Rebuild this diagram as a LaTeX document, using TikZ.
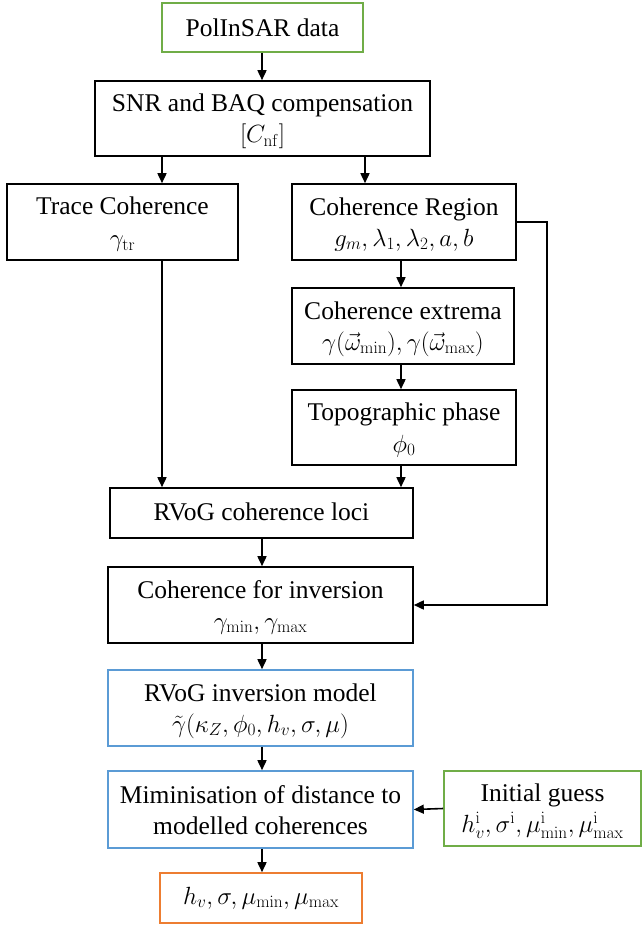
\documentclass[tikz,border=0pt]{standalone}
\usepackage[no-math]{fontspec}
\setmainfont{Liberation Serif}
\usetikzlibrary{arrows.meta}
\definecolor{cgreen}{RGB}{112,173,71}
\definecolor{cblue}{RGB}{91,155,213}
\definecolor{corange}{RGB}{237,125,49}
\newcommand{\lowtxt}[2][2.5pt]{\raisebox{-#1}[\height][\depth]{\begin{tabular}{@{}c@{}}#2\end{tabular}}}
\begin{document}
\begin{tikzpicture}[x=1pt,y=-1pt,
  box/.style={draw=black,line width=1.6pt,rectangle,align=center,inner sep=0pt,
    font=\fontsize{25.5}{31}\selectfont},
  gbox/.style={box,draw=cgreen},
  bbox/.style={box,draw=cblue},
  obox/.style={box,draw=corange},
  arr/.style={line width=1.6pt,-{Triangle[length=10pt,width=9pt]}}]
\useasboundingbox (0,0) rectangle (643,929);
\node[gbox,minimum width=201pt,minimum height=49pt] (pol) at (262.5,27.5) {PolInSAR data};
\node[box,minimum width=335pt,minimum height=75pt] (snr) at (262.5,118.5) {\lowtxt{SNR and BAQ compensation\\ $[C_{\mathrm{nf}}]$}};
\node[box,minimum width=231pt,minimum height=76pt] (trace) at (122.5,222) {\lowtxt{Trace Coherence\\[1pt] $\gamma_{\mathrm{tr}}$}};
\node[box,minimum width=224pt,minimum height=76pt] (region) at (404,222) {\lowtxt{Coherence Region\\ $g_m,\lambda_1,\lambda_2,a,b$}};
\node[box,minimum width=222pt,minimum height=76pt] (extrema) at (403,326) {\lowtxt{Coherence extrema\\ $\gamma(\vec{\omega}_{\min}),\gamma(\vec{\omega}_{\max})$}};
\node[box,minimum width=224pt,minimum height=75pt] (topo) at (404,427.5) {\lowtxt{Topographic phase\\[1pt] $\phi_0$}};
\node[box,minimum width=303pt,minimum height=50pt] (loci) at (261.5,513) {\lowtxt[1pt]{RVoG coherence loci}};
\node[box,minimum width=305pt,minimum height=76pt] (cinv) at (260.5,605) {\lowtxt{Coherence for inversion\\ $\gamma_{\min},\gamma_{\max}$}};
\node[bbox,minimum width=305pt,minimum height=76pt] (model) at (260.5,708) {\lowtxt{RVoG inversion model\\ $\tilde{\gamma}(\kappa_Z,\phi_0,h_v,\sigma,\mu)$}};
\node[bbox,minimum width=305pt,minimum height=77pt] (mini) at (260.5,809.5) {\lowtxt[3pt]{Miminisation of distance to\\ modelled coherences}};
\node[gbox,minimum width=197pt,minimum height=75pt] (guess) at (542.5,808.5) {\lowtxt{Initial guess\\ $h_v^{\mathrm{i}},\sigma^{\mathrm{i}},\mu_{\min}^{\mathrm{i}},\mu_{\max}^{\mathrm{i}}$}};
\node[obox,minimum width=202pt,minimum height=50pt] (out) at (261,898) {$h_v,\sigma,\mu_{\min},\mu_{\max}$};
\coordinate (fb) at (547,222);
\draw[arr] (pol.south -| 262,0) -- (snr.north -| 262,0);
\draw[arr] (snr.south -| 162,0) -- (trace.north -| 162,0);
\draw[arr] (snr.south -| 365,0) -- (region.north -| 365,0);
\draw[arr] (region.south -| 401,0) -- (extrema.north -| 401,0);
\draw[arr] (extrema.south -| 401,0) -- (topo.north -| 401,0);
\draw[arr] (trace.south -| 162,0) -- (loci.north -| 162,0);
\draw[arr] (topo.south -| 401,0) -- (loci.north -| 401,0);
\draw[arr] (loci.south -| 262,0) -- (cinv.north -| 262,0);
\draw[arr] (region.east) -- (fb) |- (cinv.east);
\draw[arr] (cinv.south -| 262,0) -- (model.north -| 262,0);
\draw[arr] (model.south -| 262,0) -- (mini.north -| 262,0);
\draw[arr] (mini.south -| 262,0) -- (out.north -| 262,0);
\draw[arr] (guess.west) -- (mini.east);
\end{tikzpicture}
\end{document}
